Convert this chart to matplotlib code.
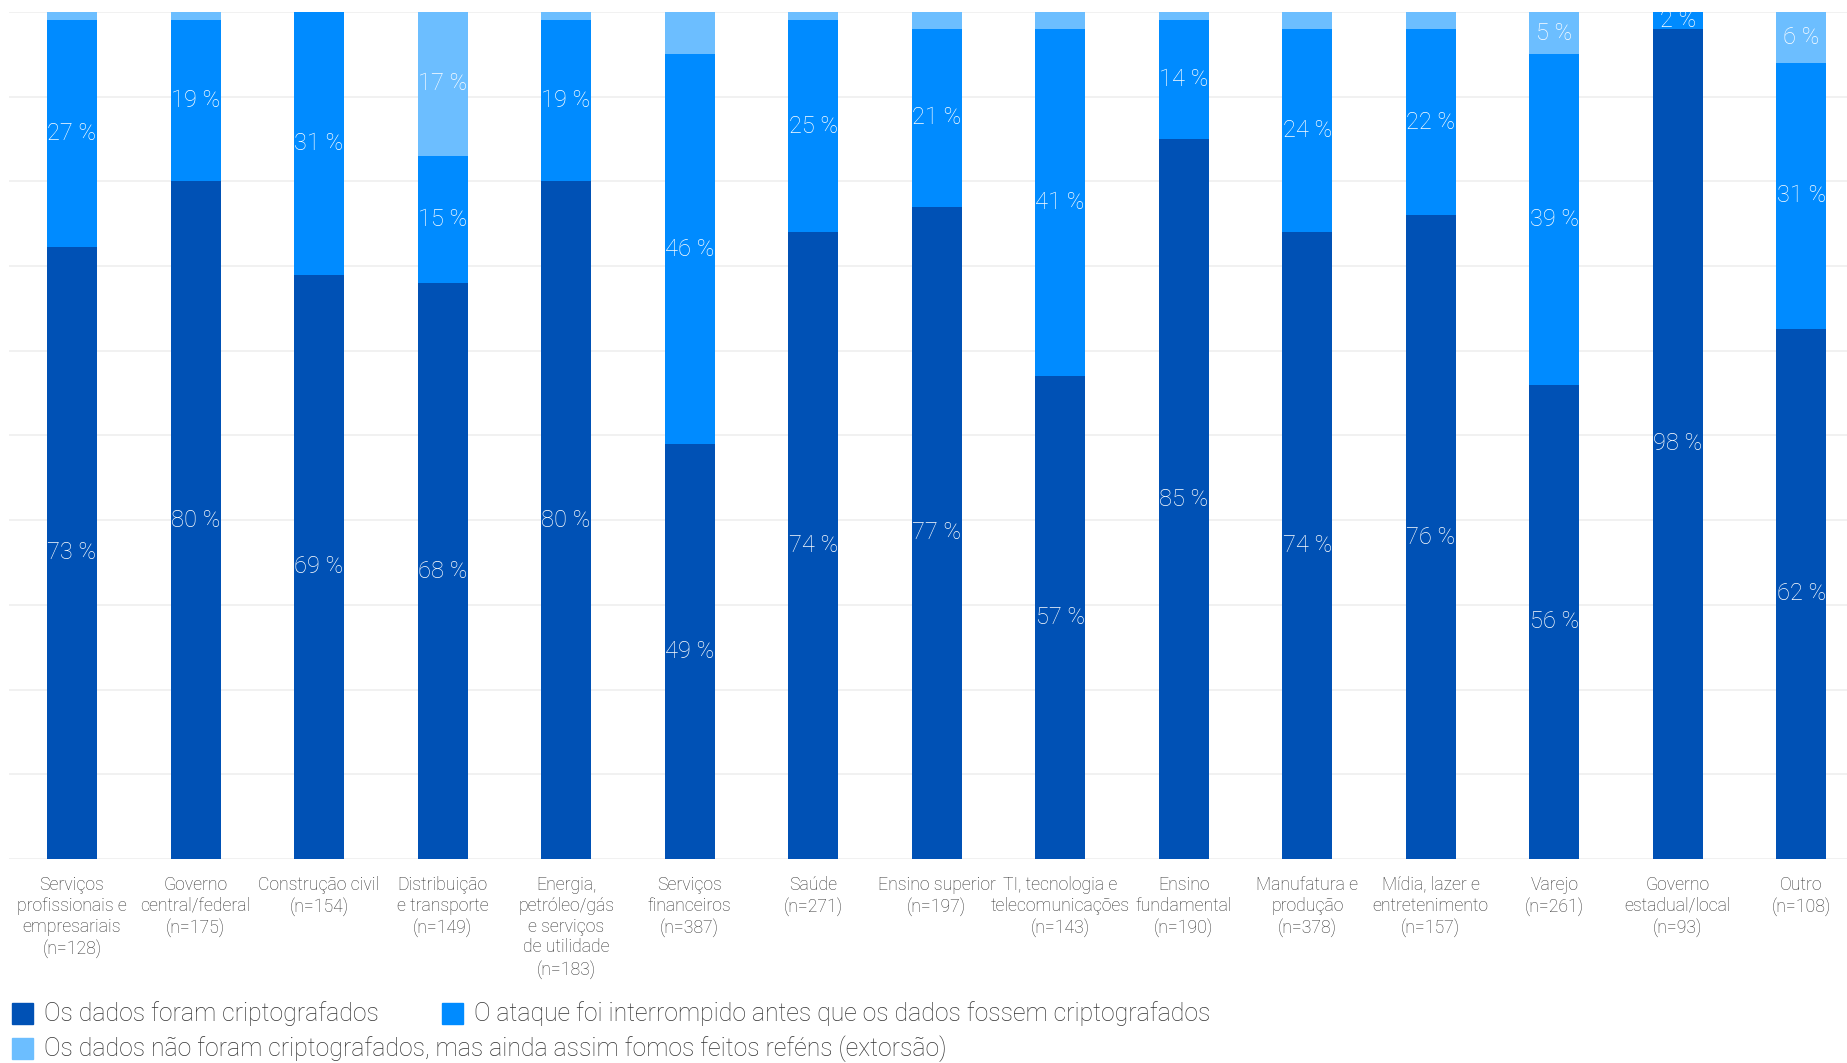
import numpy as np
import matplotlib.pyplot as plt
from matplotlib.patches import Rectangle

plt.rcParams['font.family'] = ['Roboto', 'DejaVu Sans']

categories = [
    "Serviços\nprofissionais e\nempresariais\n(n=128)",
    "Governo\ncentral/federal\n(n=175)",
    "Construção civil\n(n=154)",
    "Distribuição\ne transporte\n(n=149)",
    "Energia,\npetróleo/gás\ne serviços\nde utilidade\n(n=183)",
    "Serviços\nfinanceiros\n(n=387)",
    "Saúde\n(n=271)",
    "Ensino superior\n(n=197)",
    "TI, tecnologia e\ntelecomunicações\n(n=143)",
    "Ensino\nfundamental\n(n=190)",
    "Manufatura e\nprodução\n(n=378)",
    "Mídia, lazer e\nentretenimento\n(n=157)",
    "Varejo\n(n=261)",
    "Governo\nestadual/local\n(n=93)",
    "Outro\n(n=108)",
]

encrypted = [73, 80, 69, 68, 80, 49, 74, 77, 57, 85, 74, 76, 56, 98, 62]
stopped = [27, 19, 31, 15, 19, 46, 25, 21, 41, 14, 24, 22, 39, 2, 31]
extortion = [1, 1, 0, 17, 1, 5, 1, 2, 2, 1, 2, 2, 5, 0, 6]
# only these extortion segments carry a value label
extortion_labeled = [False, False, False, True, False, False, False, False,
                     False, False, False, False, True, False, True]

series_names = [
    "Os dados foram criptografados",
    "O ataque foi interrompido antes que os dados fossem criptografados",
    "Os dados não foram criptografados, mas ainda assim fomos feitos reféns (extorsão)",
]
colors = ["#0051B5", "#008BFF", "#6CBEFF"]

data = np.array([encrypted, stopped, extortion], dtype=float)
# 100 % stacked: each column scaled to fill the bar
shares = data / data.sum(axis=0) * 100
show = [[True] * len(encrypted), [True] * len(stopped), extortion_labeled]

W, H = 1847, 1063
fig = plt.figure(figsize=(W / 100, H / 100), dpi=100)
ax = fig.add_axes([9 / W, 204 / H, 1838 / W, 847 / H])

x = np.arange(len(categories))
for y in range(0, 101, 10):
    ax.axhline(y, color="#efefef", lw=1.2, zorder=0)

bottom = np.zeros(len(categories))
for k in range(3):
    ax.bar(x, shares[k], 0.405, bottom=bottom, color=colors[k], lw=0, zorder=2)
    for i in range(len(categories)):
        if show[k][i] and data[k, i] > 0:
            ax.text(x[i], bottom[i] + shares[k, i] / 2, f"{int(data[k, i])} %",
                    ha="center", va="center", color="white", fontsize=17,
                    fontweight="light", zorder=3)
    bottom += shares[k]

ax.set_xlim(-0.51, 14.37)
ax.set_ylim(0, 100)
ax.set_yticks([])
ax.set_xticks(x, categories, fontsize=12.7, color="#333333", linespacing=1.21,
              va="top", fontweight="light")
ax.tick_params(axis="x", length=0, pad=12)
for s in ax.spines.values():
    s.set_visible(False)

# legend rows drawn in figure pixels
legend_pos = [(12, 1003), (442, 1003), (12, 1038)]
for (px, py), name, c in zip(legend_pos, series_names, colors):
    fig.patches.append(Rectangle((px / W, 1 - (py + 21) / H), 21 / W, 21 / H,
                                 transform=fig.transFigure, color=c))
    fig.text((px + 32) / W, 1 - (py + 11) / H, name, fontsize=17.8,
             color="#333333", va="center", ha="left", fontweight="light")

fig.savefig("out.png", dpi=100)
